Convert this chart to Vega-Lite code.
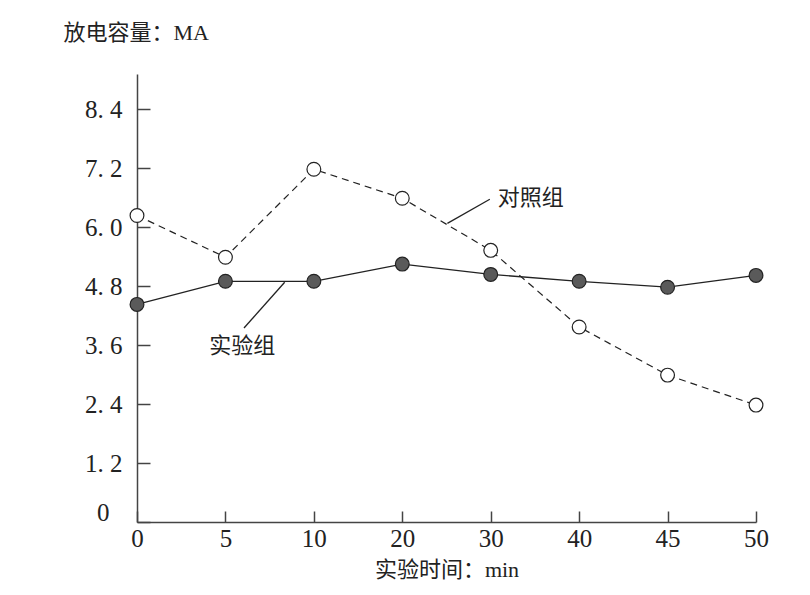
{
  "$schema": "https://vega.github.io/schema/vega-lite/v6.json",
  "width": 619,
  "height": 448,
  "autosize": {"type": "none"},
  "padding": {"left": 137, "top": 74, "right": 54, "bottom": 73},
  "background": "white",
  "config": {
    "view": {"stroke": null},
    "font": "Liberation Serif, Noto Sans CJK SC",
    "axis": {
      "grid": false,
      "domainColor": "#444",
      "tickColor": "#444",
      "domainWidth": 1.5,
      "tickWidth": 1.5,
      "labelFont": "Liberation Serif, Noto Sans CJK SC",
      "labelFontSize": 25,
      "labelColor": "#222",
      "labelFlush": false,
      "titleFont": "Liberation Serif, Noto Sans CJK SC",
      "titleFontSize": 22,
      "titleFontWeight": "normal",
      "titleColor": "#222"
    }
  },
  "datasets": {
    "pts": [
      {"t": 0, "group": "对照组", "v": 6.24},
      {"t": 1, "group": "对照组", "v": 5.39},
      {"t": 2, "group": "对照组", "v": 7.18},
      {"t": 3, "group": "对照组", "v": 6.59},
      {"t": 4, "group": "对照组", "v": 5.53},
      {"t": 5, "group": "对照组", "v": 3.97},
      {"t": 6, "group": "对照组", "v": 2.99},
      {"t": 7, "group": "对照组", "v": 2.38},
      {"t": 0, "group": "实验组", "v": 4.43},
      {"t": 1, "group": "实验组", "v": 4.9},
      {"t": 2, "group": "实验组", "v": 4.9},
      {"t": 3, "group": "实验组", "v": 5.25},
      {"t": 4, "group": "实验组", "v": 5.04},
      {"t": 5, "group": "实验组", "v": 4.9},
      {"t": 6, "group": "实验组", "v": 4.78},
      {"t": 7, "group": "实验组", "v": 5.02}
    ],
    "leaders": [
      {"x1": 3.99, "y1": 6.57, "x2": 3.51, "y2": 6.08},
      {"x1": 1.67, "y1": 4.88, "x2": 1.21, "y2": 3.95}
    ],
    "labels": [
      {"x": 4.08, "y": 6.59, "text": "对照组", "side": "left"},
      {"x": 1.19, "y": 3.58, "text": "实验组", "side": "center"}
    ]
  },
  "layer": [
    {
      "data": {"name": "pts"},
      "transform": [{"filter": "datum.group === '对照组'"}],
      "mark": {"type": "line", "color": "#222", "strokeWidth": 1.2, "strokeDash": [7, 5]},
      "encoding": {
        "x": {
          "field": "t", "type": "quantitative",
          "scale": {"domain": [0, 7], "nice": false, "zero": false},
          "axis": {
            "values": [0, 1, 2, 3, 4, 5, 6, 7],
            "labelExpr": "['0','5','10','20','30','40','45','50'][datum.value]",
            "tickSize": -11,
            "labelPadding": 15,
            "title": "实验时间：min",
            "titlePadding": 8
          }
        },
        "y": {
          "field": "v", "type": "quantitative",
          "scale": {"domain": [0, 9.12], "nice": false},
          "axis": {
            "values": [0, 1.2, 2.4, 3.6, 4.8, 6.0, 7.2, 8.4],
            "labelExpr": "datum.value === 0 ? '0' : replace(format(datum.value, '.1f'), '.', '. ')",
            "tickSize": -13,
            "labelPadding": {"condition": {"test": "datum.value === 0", "value": 41}, "value": 28},
            "labelOffset": {"condition": {"test": "datum.value === 0", "value": -10}, "value": 0},
            "title": "放电容量：MA",
            "titleAngle": 0,
            "titleAlign": "left",
            "titleBaseline": "middle",
            "titleX": -74,
            "titleY": -42
          }
        }
      }
    },
    {
      "data": {"name": "pts"},
      "transform": [{"filter": "datum.group === '实验组'"}],
      "mark": {"type": "line", "color": "#222", "strokeWidth": 1.3},
      "encoding": {
        "x": {"field": "t", "type": "quantitative"},
        "y": {"field": "v", "type": "quantitative"}
      }
    },
    {
      "data": {"name": "pts"},
      "mark": {"type": "point", "filled": true, "size": 190, "stroke": "#222", "strokeWidth": 1.2, "opacity": 1},
      "encoding": {
        "x": {"field": "t", "type": "quantitative"},
        "y": {"field": "v", "type": "quantitative"},
        "fill": {
          "field": "group", "type": "nominal",
          "scale": {"domain": ["对照组", "实验组"], "range": ["#ffffff", "#5a5a5a"]},
          "legend": null
        }
      }
    },
    {
      "data": {"name": "leaders"},
      "mark": {"type": "rule", "color": "#222", "strokeWidth": 1.3},
      "encoding": {
        "x": {"field": "x1", "type": "quantitative"},
        "y": {"field": "y1", "type": "quantitative"},
        "x2": {"field": "x2"},
        "y2": {"field": "y2"}
      }
    },
    {
      "data": {"name": "labels"},
      "transform": [{"filter": "datum.side === 'left'"}],
      "mark": {"type": "text", "fontSize": 22, "color": "#222", "baseline": "middle", "align": "left", "font": "Noto Sans CJK SC"},
      "encoding": {
        "x": {"field": "x", "type": "quantitative"},
        "y": {"field": "y", "type": "quantitative"},
        "text": {"field": "text"}
      }
    },
    {
      "data": {"name": "labels"},
      "transform": [{"filter": "datum.side === 'center'"}],
      "mark": {"type": "text", "fontSize": 22, "color": "#222", "baseline": "middle", "align": "center", "font": "Noto Sans CJK SC"},
      "encoding": {
        "x": {"field": "x", "type": "quantitative"},
        "y": {"field": "y", "type": "quantitative"},
        "text": {"field": "text"}
      }
    }
  ]
}
